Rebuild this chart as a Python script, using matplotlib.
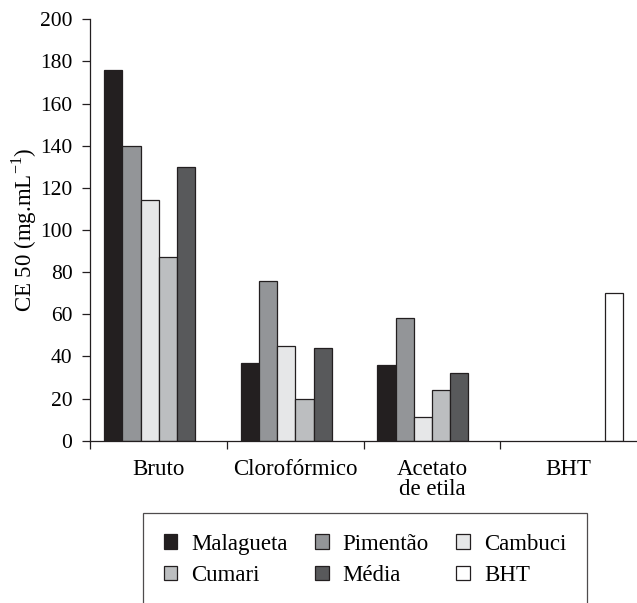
import matplotlib.pyplot as plt
from matplotlib.patches import Patch
import numpy as np

plt.rcParams['font.family'] = ['Liberation Serif', 'DejaVu Serif']

grupos = ['Bruto', 'Clorofórmico', 'Acetato\nde etila', 'BHT']
series = ['Malagueta', 'Pimentão', 'Cambuci', 'Cumari', 'Média', 'BHT']
cores = ['#231f20', '#939598', '#e6e7e8', '#bcbec0', '#58595b', '#ffffff']

# valores por serie (None = sem barra)
malagueta = [176, 37, 36, None]
pimentao = [140, 76, 58, None]
cambuci = [114, 45, 11, None]
cumari = [87, 20, 24, None]
media = [130, 44, 32, None]
bht = [None, None, None, 70]
valores = [malagueta, pimentao, cambuci, cumari, media, bht]

fig = plt.figure(figsize=(6.37, 6.03), dpi=100)
ax = fig.add_axes([0.142, 0.2692, 0.858, 0.6988])

x = np.arange(len(grupos))
largura = 0.8 / 6
for i, (nome, vals, cor) in enumerate(zip(series, valores, cores)):
    xs = [x[j] - 0.4 + largura * (i + 0.5) for j in range(len(vals)) if vals[j] is not None]
    ys = [v for v in vals if v is not None]
    ax.bar(xs, ys, largura, color=cor, edgecolor='#231f20', linewidth=0.9, label=nome)

ax.set_xlim(-0.5, 3.5)
ax.set_ylim(0, 200)
ax.set_yticks(range(0, 201, 20))
ax.set_xticks(x)
ax.set_xticklabels(grupos, fontsize=16.5, linespacing=0.95)
ax.set_xticks([-0.5, 0.5, 1.5, 2.5], minor=True)
ax.tick_params(axis='x', which='major', length=0, pad=13)
ax.tick_params(axis='x', which='minor', length=6, width=0.9, color='#231f20')
ax.tick_params(axis='y', length=6, width=0.9, color='#231f20', labelsize=15.5, pad=7)
for s in ['top', 'right']:
    ax.spines[s].set_visible(False)
for s in ['left', 'bottom']:
    ax.spines[s].set_linewidth(0.9)
    ax.spines[s].set_color('#231f20')
ax.set_ylabel('CE 50 (mg.mL$^{\\mathregular{-1}}$)', fontsize=16.5, labelpad=1)

# legenda em ordem por linha
ordem = [0, 3, 1, 4, 2, 5]
handles = [Patch(facecolor=cores[k], edgecolor='#231f20', linewidth=0.9) for k in ordem]
labels = [series[k] for k in ordem]
leg = fig.legend(handles, labels, loc='upper left', bbox_to_anchor=(143 / 637, 1 - 513 / 603),
                 ncol=3, fontsize=16.5, frameon=True, fancybox=False, edgecolor='#231f20',
                 handlelength=0.6, handleheight=0.6, handletextpad=0.6, columnspacing=1.2,
                 borderpad=0.9, labelspacing=0.45, borderaxespad=0)
leg.get_frame().set_linewidth(0.9)

fig.savefig('out.png', dpi=100)
